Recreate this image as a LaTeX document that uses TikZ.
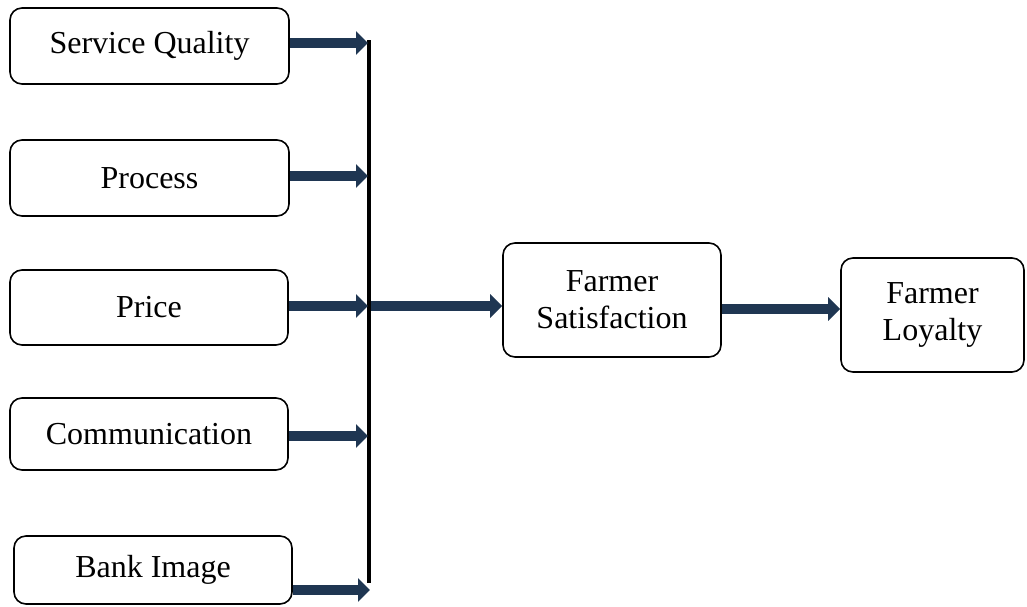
\documentclass[tikz,border=0pt]{standalone}
\usepackage{fontspec}
\setmainfont{Liberation Serif}
\usetikzlibrary{arrows.meta}
\definecolor{navy}{HTML}{1F3652}
\tikzset{
  box/.style={draw=black, line width=1.6pt, rounded corners=12pt, align=center,
    font=\fontsize{32}{37}\selectfont, inner sep=0pt},
  flow/.style={draw=navy, line width=9.5pt, -{Triangle[length=12pt,width=23pt]}},
  bar/.style={draw=black, line width=4pt}
}
\begin{document}
\begin{tikzpicture}[x=1pt,y=-1pt]
\useasboundingbox (0,0) rectangle (1027,606);
\node[box, minimum width=279pt, minimum height=76pt] (sq) at (149.5,46) {Service Quality};
\node[box, minimum width=279pt, minimum height=76pt] (pr) at (149.5,178) {Process};
\node[box, minimum width=278pt, minimum height=75pt] (pc) at (149,307.5) {Price};
\node[box, minimum width=278pt, minimum height=72pt] (cm) at (149,434) {Communication};
\node[box, minimum width=278pt, minimum height=68pt] (bi) at (153,570) {Bank Image};
\node[box, minimum width=218pt, minimum height=114pt] (fs) at (612,300) {Farmer\\Satisfaction};
\node[box, minimum width=183pt, minimum height=114pt] (fl) at (932.5,315) {Farmer\\Loyalty};
\coordinate (top) at (369,40);
\coordinate (bot) at (369,583);
\coordinate (b1) at (368,43);
\coordinate (b2) at (368,176);
\coordinate (b3) at (368,306);
\coordinate (b4) at (368,436);
\coordinate (b5) at (370,590);
\coordinate (m) at (371,306);
\draw[bar] (top) -- (bot);
\draw[flow] (sq.east |- b1) -- (b1);
\draw[flow] (pr.east |- b2) -- (b2);
\draw[flow] (pc.east |- b3) -- (b3);
\draw[flow] (cm.east |- b4) -- (b4);
\draw[flow] (bi.east |- b5) -- (b5);
\draw[flow] (m) -- (fs.west |- m);
\draw[flow] (fs.east |- 0,309) -- (fl.west |- 0,309);
\end{tikzpicture}
\end{document}
